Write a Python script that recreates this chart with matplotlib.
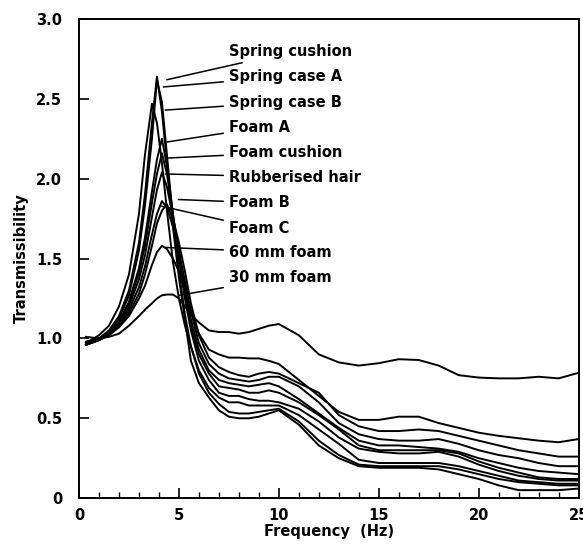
import numpy as np
import matplotlib
matplotlib.use("Agg")
import matplotlib.pyplot as plt

# frequency grid (Hz) shared by all curves
freq = [0.35, 1, 1.5, 2, 2.5, 3, 3.3, 3.65, 3.9, 4.15, 4.4, 4.7, 5, 5.3, 5.6,
        6, 6.5, 7, 7.5, 8, 8.5, 9, 9.5, 10, 11, 12, 13, 14, 15, 16, 17, 18,
        19, 20, 21, 22, 23, 24, 25]

spring_cushion = [0.97, 1.0, 1.05, 1.14, 1.3, 1.6, 1.9, 2.35, 2.64,
                  2.42, 2.1, 1.7, 1.38, 1.12, 0.86, 0.72, 0.63, 0.55, 0.51, 0.5, 0.5, 0.51, 0.53, 0.55,
                  0.46, 0.33, 0.25, 0.2, 0.19, 0.19, 0.19, 0.18, 0.15, 0.12, 0.08, 0.05, 0.05, 0.05, 0.06]
spring_case_a = [0.96, 0.99, 1.04, 1.12, 1.27, 1.55, 1.83, 2.25, 2.62,
                 2.48, 2.15, 1.75, 1.42, 1.15, 0.95, 0.78, 0.66, 0.59, 0.54, 0.53, 0.53, 0.54, 0.55, 0.56,
                 0.48, 0.36, 0.27, 0.21, 0.2, 0.2, 0.2, 0.2, 0.18, 0.15, 0.12, 0.1, 0.09, 0.08, 0.08]
spring_case_b = [0.97, 1.02, 1.08, 1.2, 1.4, 1.78, 2.15, 2.47, 2.35,
                 2.1, 1.8, 1.48, 1.25, 1.08, 0.95, 0.8, 0.69, 0.63, 0.6, 0.6, 0.58, 0.58, 0.58, 0.58,
                 0.52, 0.43, 0.34, 0.24, 0.22, 0.22, 0.22, 0.22, 0.2, 0.17, 0.14, 0.11, 0.1, 0.09, 0.09]
foam_a = [0.96, 0.99, 1.03, 1.1, 1.23, 1.44, 1.63, 1.92, 2.12,
          2.25, 2.08, 1.78, 1.5, 1.25, 1.05, 0.86, 0.74, 0.66, 0.64, 0.64, 0.62, 0.61, 0.61, 0.6,
          0.56, 0.48, 0.38, 0.31, 0.29, 0.28, 0.28, 0.29, 0.26, 0.21, 0.17, 0.14, 0.12, 0.11, 0.11]
foam_cushion = [0.96, 0.99, 1.03, 1.1, 1.22, 1.41, 1.58, 1.85, 2.03,
                2.16, 2.03, 1.78, 1.52, 1.28, 1.08, 0.9, 0.78, 0.7, 0.69, 0.68, 0.66, 0.66, 0.675, 0.66,
                0.6, 0.52, 0.43, 0.33, 0.3, 0.3, 0.3, 0.3, 0.28, 0.23, 0.19, 0.16, 0.13, 0.12, 0.12]
rubberised_hair = [0.97, 0.99, 1.03, 1.09, 1.2, 1.37, 1.52, 1.76, 1.93,
                   2.04, 1.95, 1.76, 1.54, 1.32, 1.12, 0.93, 0.8, 0.74, 0.72, 0.71, 0.7, 0.71, 0.72, 0.7,
                   0.62, 0.53, 0.44, 0.36, 0.33, 0.33, 0.32, 0.31, 0.29, 0.25, 0.22, 0.19, 0.17, 0.16, 0.15]
foam_b = [0.96, 0.99, 1.02, 1.08, 1.18, 1.32, 1.45, 1.65, 1.78,
          1.86, 1.82, 1.7, 1.55, 1.36, 1.17, 0.97, 0.84, 0.78, 0.75, 0.74, 0.73, 0.74, 0.76, 0.76,
          0.7, 0.6, 0.47, 0.4, 0.37, 0.36, 0.36, 0.37, 0.34, 0.3, 0.27, 0.25, 0.22, 0.2, 0.2]
foam_c = [0.97, 0.99, 1.02, 1.07, 1.16, 1.28, 1.4, 1.58, 1.72,
          1.8, 1.84, 1.75, 1.6, 1.42, 1.22, 1.02, 0.88, 0.82, 0.79, 0.77, 0.76, 0.78, 0.79, 0.78,
          0.72, 0.66, 0.52, 0.45, 0.42, 0.42, 0.43, 0.42, 0.39, 0.36, 0.33, 0.3, 0.28, 0.26, 0.26]
foam_60mm = [0.98, 1.0, 1.03, 1.07, 1.14, 1.25, 1.33, 1.46, 1.54,
             1.58, 1.56, 1.5, 1.42, 1.3, 1.17, 1.03, 0.93, 0.9, 0.88, 0.88, 0.875, 0.875, 0.86, 0.84,
             0.74, 0.64, 0.54, 0.49, 0.49, 0.51, 0.51, 0.47, 0.44, 0.41, 0.39, 0.375, 0.36, 0.35, 0.37]
foam_30mm = [1.01, 1.0, 1.01, 1.03, 1.08, 1.14, 1.18, 1.22, 1.25,
             1.27, 1.275, 1.275, 1.25, 1.2, 1.15, 1.1, 1.05, 1.04, 1.04, 1.03, 1.04, 1.06, 1.08, 1.09,
             1.02, 0.9, 0.85, 0.83, 0.845, 0.87, 0.865, 0.83, 0.77, 0.755, 0.75, 0.75, 0.76, 0.75, 0.785]

labels = ['Spring cushion', 'Spring case A', 'Spring case B', 'Foam A',
          'Foam cushion', 'Rubberised hair', 'Foam B', 'Foam C',
          '60 mm foam', '30 mm foam']
series = [spring_cushion, spring_case_a, spring_case_b, foam_a, foam_cushion,
          rubberised_hair, foam_b, foam_c, foam_60mm, foam_30mm]

# where each label sits and where its leader line points
label_y = [2.795, 2.64, 2.48, 2.32, 2.165, 2.01, 1.85, 1.69, 1.54, 1.38]
pointer_x = [4.39, 4.22, 4.31, 4.39, 4.47, 4.31, 4.97, 4.06, 4.31, 5.0]
pointer_y = [2.62, 2.575, 2.43, 2.23, 2.13, 2.03, 1.87, 1.83, 1.57, 1.27]

fig = plt.figure(figsize=(5.83, 5.45), dpi=100)
ax = fig.add_axes([0.1355, 0.086, 0.857, 0.879])

for y in series:
    ax.plot(freq, y, color='black', lw=1.4)

for name, ty, px, py in zip(labels, label_y, pointer_x, pointer_y):
    ax.annotate(name, xy=(px, py), xytext=(7.5, ty), fontsize=10.5,
                fontweight='bold', va='center', ha='left',
                arrowprops=dict(arrowstyle='-', lw=1.1, color='black',
                                shrinkA=2, shrinkB=0))

ax.set_xlim(0, 25)
ax.set_ylim(0, 3.0)
ax.set_xticks(np.arange(0, 26, 5))
ax.set_xticks(np.arange(0, 26, 1), minor=True)
ax.set_yticks([0, 0.5, 1.0, 1.5, 2.0, 2.5, 3.0])
ax.set_yticklabels(['0', '0.5', '1.0', '1.5', '2.0', '2.5', '3.0'])
ax.tick_params(axis='both', which='major', direction='in', length=7,
               width=1.2, labelsize=10.5)
ax.tick_params(axis='x', which='major', pad=7)
ax.tick_params(axis='y', which='major', pad=12)
ax.tick_params(axis='x', which='minor', direction='in', length=4, width=1.0)
for lab in ax.get_xticklabels() + ax.get_yticklabels():
    lab.set_fontweight('bold')
for sp in ax.spines.values():
    sp.set_linewidth(1.4)

ax.set_xlabel('Frequency  (Hz)', fontsize=10.5, fontweight='bold', labelpad=1)
ax.set_ylabel('Transmissibility', fontsize=10.5, fontweight='bold', labelpad=5)

plt.savefig('out.png', dpi=100)
